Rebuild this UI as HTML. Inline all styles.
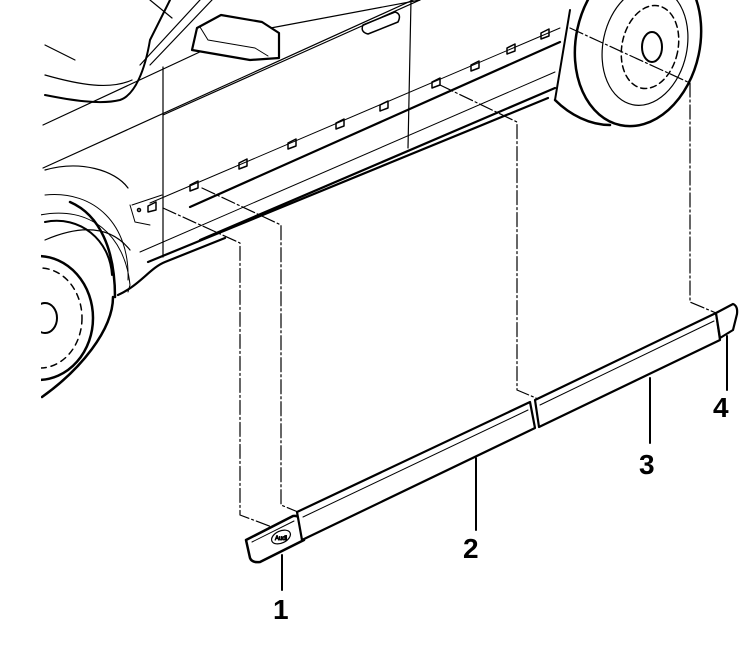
<!DOCTYPE html>
<html><head><meta charset="utf-8"><style>
html,body{margin:0;padding:0;background:#fff;width:752px;height:659px;overflow:hidden}
text{font-family:"Liberation Sans",sans-serif;font-weight:bold;font-size:28px;fill:#000}
</style></head><body>
<svg width="752" height="659" viewBox="0 0 752 659" xmlns="http://www.w3.org/2000/svg" fill="none" stroke="#000" stroke-linecap="round" stroke-linejoin="round">
<defs><clipPath id="c"><rect x="41" y="0" width="711" height="659"/></clipPath></defs>
<g clip-path="url(#c)">
<g stroke-width="1.2">
<path d="M43 168 L413 0"/>
<path d="M43 125 L262 23"/>
<path d="M163 115 L420 0"/>
<path d="M163 67 L163 257"/>
<path d="M411 0 L408 148"/>
<path d="M150 0 L172 18"/>
<path d="M45 45 L75 60"/>
<path d="M45 95 C70 100 100 105 120 100 C135 95 145 70 150 40 L170 0" stroke-width="2"/>
<path d="M45 75 C80 85 110 90 132 80"/>
<path d="M140 65 L200 0"/>
<path d="M150 65 L212 0"/>
<path d="M45 240 C80 225 110 225 130 250"/>
<path d="M45 170 C80 160 115 170 128 188"/>
<path d="M260 30 L420 0"/>
</g>
<path d="M197 28 L221 15 L262 22 L279 33 L279 58 L250 60 L192 50 Z" stroke-width="2.2" fill="#fff"/>
<path d="M200 27 L208 40 L255 48 L268 56" stroke-width="1"/>
<path d="M363 25 L395 12 Q402 14 398 22 L368 34 Q360 32 363 25 Z" stroke-width="1.5"/>
<g stroke-width="2.2">
<path d="M190 207 L560 42"/>
<path d="M200 240 L555 88"/>
<path d="M148 262 L548 98"/>
<path d="M118 295 C140 285 150 268 165 262 L225 238"/>
</g>
<g stroke-width="1">
<path d="M150 203 L560 28"/>
<path d="M140 252 L555 72"/>
<path d="M132 205 L162 195"/>
<path d="M130 205 L135 222 L150 225"/>
</g>
<g stroke-width="1.5">
<circle cx="139" cy="210" r="1.5"/>
<path d="M148 206 l8-4 v8 l-8 2 Z"/>
<path d="M190 185 l8-4 v7 l-8 3 Z"/>
<path d="M239 163 l8-4 v7 l-8 3 Z"/>
<path d="M288 143 l8-4 v7 l-8 3 Z"/>
<path d="M336 123 l8-4 v7 l-8 3 Z"/>
<path d="M380 105 l8-4 v7 l-8 3 Z"/>
<path d="M432 82 l8-4 v7 l-8 3 Z"/>
<path d="M471 65 l8-4 v7 l-8 3 Z"/>
<path d="M507 48 l8-4 v7 l-8 3 Z"/>
<path d="M541 33 l8-4 v7 l-8 3 Z"/>
</g>
<path d="M555 100 C570 115 590 125 610 125" stroke-width="2.5"/>
<ellipse cx="638" cy="42" rx="62" ry="85" transform="rotate(12 638 42)" stroke-width="2.5"/>
<ellipse cx="645" cy="46" rx="42" ry="60" transform="rotate(12 645 46)" stroke-width="1.2"/>
<ellipse cx="650" cy="47" rx="28" ry="42" transform="rotate(12 650 47)" stroke-width="1.5" stroke-dasharray="6 4"/>
<ellipse cx="652" cy="47" rx="10" ry="15" stroke-width="2"/>
<path d="M555 100 L570 10" stroke-width="2"/>
<path d="M70 202 C100 215 115 250 115 297" stroke-width="2.5"/>
<path d="M42 397 C80 370 113 330 113 297" stroke-width="2.5"/>
<path d="M45 195 C95 190 130 225 128 280" stroke-width="1"/>
<ellipse cx="38" cy="318" rx="55" ry="62" stroke-width="2.5"/>
<ellipse cx="40" cy="318" rx="42" ry="50" stroke-width="1.5" stroke-dasharray="6 5"/>
<ellipse cx="45" cy="318" rx="12" ry="15" stroke-width="2"/>
<path d="M45 222 C80 215 110 240 112 275" stroke-width="2"/>
<path d="M40 215 C90 205 125 235 130 285 L128 292" stroke-width="1"/>
</g>
<g stroke-width="1.2" stroke-dasharray="14 3 2 3">
<path d="M163 208 L240 243 L240 515 L272 527"/>
<path d="M202 188 L281 225 L281 505 L298 512"/>
<path d="M440 85 L517 122 L517 390 L536 398"/>
<path d="M570 28 L690 83 L690 302 L716 313"/>
</g>
<path d="M246 540 L293 516 Q300 515 301 522 L304 540 L260 562 Q252 563 250 558 Z" stroke-width="2.5" fill="#fff"/>
<path d="M252 542 L294 521" stroke-width="1"/>
<ellipse cx="281" cy="537" rx="10" ry="6" transform="rotate(-25 281 537)" stroke-width="1.2"/>
<text x="275" y="540" style="font-size:6px;font-weight:normal">Audi</text>
<path d="M297 512 L530 402 L535 428 L302 540 Z" stroke-width="2.2" fill="#fff"/>
<path d="M303 517 L528 410" stroke-width="1"/>
<path d="M535 400 L716 313 L720 340 L539 427 Z" stroke-width="2.2" fill="#fff"/>
<path d="M540 405 L714 321" stroke-width="1"/>
<path d="M716 313 L733 304 Q738 306 737 314 L733 330 L720 338 Z" stroke-width="2.2" fill="#fff"/>
<g stroke-width="2">
<path d="M282 555 L282 590"/>
<path d="M476 458 L476 530"/>
<path d="M650 378 L650 443"/>
<path d="M727 336 L727 390"/>
</g>
<text x="273" y="619" stroke="none">1</text>
<text x="463" y="558" stroke="none">2</text>
<text x="639" y="474" stroke="none">3</text>
<text x="713" y="417" stroke="none">4</text>
</svg>
</body></html>
